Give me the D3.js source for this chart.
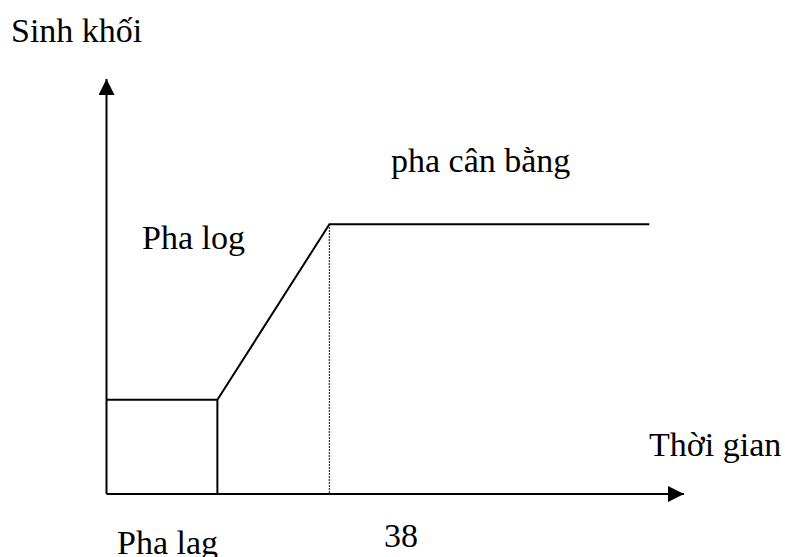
<!DOCTYPE html>
<html>
<head>
<meta charset="utf-8">
<script src="https://cdn.jsdelivr.net/npm/d3@7"></script>
<style>
    body { margin: 0; background: #fff; }
    svg text { font-family: "Liberation Serif", "Times New Roman", serif; font-size: 34px; fill: #000; }
</style>
</head>
<body>
<div id="chart"></div>
<script>
(function () {

    // growth phases: time (x) vs biomass (y), arbitrary units
    var times = [0, 1.92, 3.86, 9.4];
    var biomass = [2.27, 2.27, 6.5, 6.5];

    var phaseLabels = ['Pha lag', 'Pha log', 'pha cân bằng'];
    var axisLabels = ['Sinh khối', 'Thời gian'];
    var pageNumber = '38';

    var width = 785, height = 557;

    var svg = d3.select('#chart')
        .append('svg')
        .attr('width', width)
        .attr('height', height);

    var x = d3.scaleLinear().domain([0, 10]).range([106.5, 684]);
    var y = d3.scaleLinear().domain([0, 10]).range([494, 79]);

    // arrow heads
    svg.append('defs')
        .append('marker')
        .attr('id', 'arrow')
        .attr('viewBox', '0 0 16 16')
        .attr('refX', 16)
        .attr('refY', 8)
        .attr('markerWidth', 16)
        .attr('markerHeight', 16)
        .attr('markerUnits', 'userSpaceOnUse')
        .attr('orient', 'auto')
        .append('path')
        .attr('d', 'M0,0 L16,8 L0,16 Z')
        .attr('fill', '#000');

    // axes
    svg.append('line')
        .attr('x1', x(0)).attr('y1', y(0))
        .attr('x2', x(10)).attr('y2', y(0))
        .attr('stroke', '#000').attr('stroke-width', 2.2)
        .attr('marker-end', 'url(#arrow)');

    svg.append('line')
        .attr('x1', x(0)).attr('y1', y(0))
        .attr('x2', x(0)).attr('y2', y(10))
        .attr('stroke', '#000').attr('stroke-width', 2)
        .attr('marker-end', 'url(#arrow)');

    // growth curve
    var data = times.map(function (t, i) { return { t: t, b: biomass[i] }; });

    var line = d3.line()
        .x(d => x(d.t))
        .y(d => y(d.b));

    svg.append('path')
        .datum(data)
        .attr('d', line)
        .attr('fill', 'none')
        .attr('stroke', '#000')
        .attr('stroke-width', 2);

    // end of lag phase
    svg.append('line')
        .attr('x1', x(times[1])).attr('y1', y(biomass[1]))
        .attr('x2', x(times[1])).attr('y2', y(0))
        .attr('stroke', '#000').attr('stroke-width', 2);

    // end of log phase (dotted)
    svg.append('line')
        .attr('x1', x(times[2])).attr('y1', y(biomass[2]))
        .attr('x2', x(times[2])).attr('y2', y(0))
        .attr('stroke', '#000').attr('stroke-width', 1.3)
        .attr('stroke-dasharray', '1.5,1.5');

    // texts
    svg.append('text').attr('x', 11).attr('y', 42).text(axisLabels[0]);
    svg.append('text').attr('x', 649).attr('y', 456).text(axisLabels[1]);

    svg.append('text').attr('x', 117).attr('y', 554).text(phaseLabels[0]);
    svg.append('text').attr('x', 142).attr('y', 249).text(phaseLabels[1]);
    svg.append('text').attr('x', 391).attr('y', 172).text(phaseLabels[2]);

    svg.append('text').attr('x', 384).attr('y', 547).text(pageNumber);

})();
</script>
</body>
</html>
